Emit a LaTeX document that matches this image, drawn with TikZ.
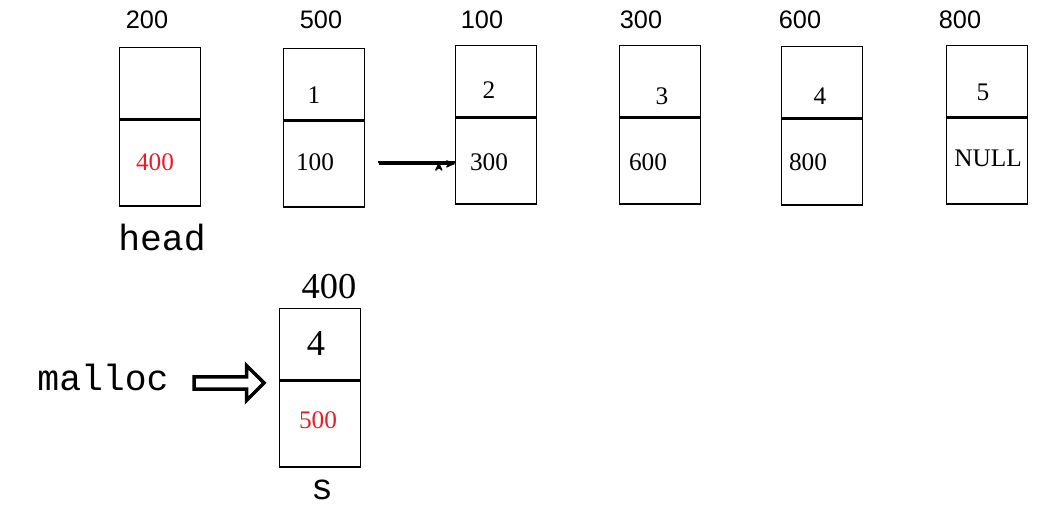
\documentclass[tikz,border=0pt]{standalone}
\usepackage{fontspec}
\setmainfont{Liberation Serif}
\newfontfamily\addrfont{Liberation Sans}
\newfontfamily\namefont{Liberation Mono}
\usetikzlibrary{arrows,shapes,positioning,calc}
\definecolor{linkred}{RGB}{230,30,40}

\begin{document}
\begin{tikzpicture}[x=0.02cm,y=-0.02cm,
    top/.style={rectangle, draw, thick, minimum width=1.62cm, minimum height=1.42cm, inner sep=0pt},
    bot/.style={rectangle, draw, thick, minimum width=1.62cm, minimum height=1.72cm, inner sep=0pt},
    addr/.style={font=\addrfont\Large},
    val/.style={font=\Large},
    arrow/.style={->, thick, >=stealth'},
    redlink/.style={->, thick, linkred, >=stealth'}
]
\useasboundingbox (0,0) rectangle (1063,513);

% head
\node[top] (h1) at (160,83) {};
\node[bot, below=0pt of h1] (h2) {};
\node[val, linkred] at (155,162) {400};
\node[addr] at (147,20) {200};
\node[font=\namefont\huge] (head) at (162,238) {head};

% list nodes
\node[top] (a1) at (324,84) {};
\node[bot, below=0pt of a1] (a2) {};
\node[val] at (314,95) {1};
\node[val] at (315,162) {100};
\node[addr] at (321,20) {500};

\node[top] (b1) at (496,81) {};
\node[bot, below=0pt of b1] (b2) {};
\node[val] at (489,90) {2};
\node[val] at (489,162) {300};
\node[addr] at (482,20) {100};

\node[top] (c1) at (660,81) {};
\node[bot, below=0pt of c1] (c2) {};
\node[val] at (662,96) {3};
\node[val] at (648,162) {600};
\node[addr] at (641,20) {300};

\node[top] (d1) at (822,82) {};
\node[bot, below=0pt of d1] (d2) {};
\node[val] at (820,96) {4};
\node[val] at (808,162) {800};
\node[addr] at (800,20) {600};

\node[top] (e1) at (987,81) {};
\node[bot, below=0pt of e1] (e2) {};
\node[val] at (983,92) {5};
\node[val] at (988,158) {NULL};
\node[addr] at (960,20) {800};

% new node s
\node[top] (s1) at (320,344) {};
\node[bot, below=0pt of s1] (s2) {};
\node[font=\huge] at (316,344) {4};
\node[val, linkred] at (318,420) {500};
\node[font=\huge] at (329,287) {400};
\node[font=\namefont\huge] at (322,490) {s};
\node[font=\namefont\huge] (malloc) at (103,377) {malloc};
\node[single arrow, draw, line width=2pt, minimum height=1.4cm, minimum width=0.7cm,
      single arrow head extend=0.1cm, inner sep=0.5pt] (mal) at (226,383) {};

% Arrows
\draw[arrow] (378,162) -- (b2.west |- 0,162) ++(-16,0);
\draw[arrow] ($(a2.east)+(14,0)$) |- (b2.west |- a2.east);
\end{tikzpicture}
\end{document}
